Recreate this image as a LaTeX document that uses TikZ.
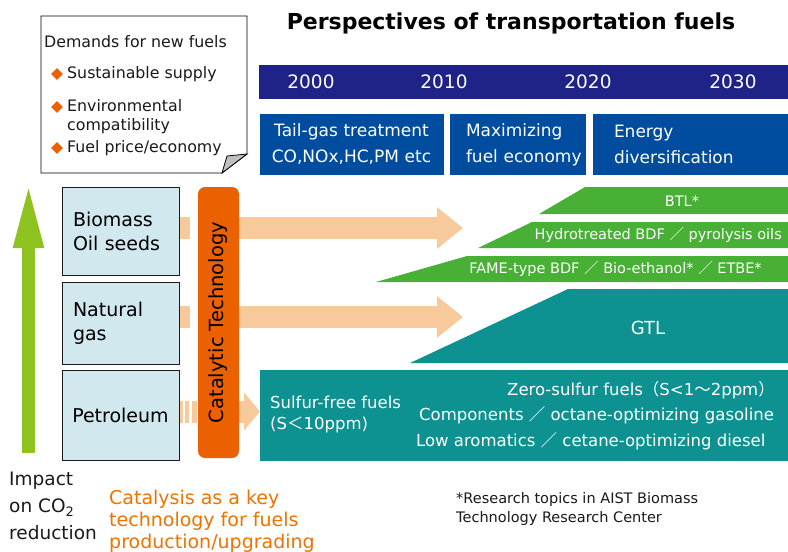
\documentclass[tikz,border=0pt]{standalone}
\usepackage{fontspec}
\setmainfont{DejaVu Sans}
\newfontfamily\cjk{Noto Sans CJK JP}
\usetikzlibrary{arrows.meta,positioning,shapes.geometric}
\definecolor{fuelNavy}{HTML}{1F2287}
\definecolor{fuelBlue}{HTML}{004C9E}
\definecolor{fuelGreen}{HTML}{48B035}
\definecolor{fuelTeal}{HTML}{0E9191}
\definecolor{fuelOrange}{HTML}{EB6100}
\definecolor{fuelPeach}{HTML}{F8C99B}
\definecolor{fuelLime}{HTML}{8DC21F}
\definecolor{fuelIce}{HTML}{D0E8EE}
\definecolor{fuelText}{HTML}{EE7300}
\definecolor{fuelInk}{HTML}{1A1A1A}
\newcommand{\fsz}[2]{\fontsize{#1}{#2}\selectfont}

\begin{document}
\begin{tikzpicture}[x=1pt,y=-1pt,>=Latex,line join=miter]
\useasboundingbox[fill=white] (0,0) rectangle (788,552);
\tikzset{src/.style={draw=fuelInk,fill=fuelIce,line width=1pt,minimum width=117pt,inner sep=0pt,text width=95pt,align=left,font=\fsz{19}{24}},goal/.style={fill=fuelBlue,text=white,minimum height=61pt,inner sep=0pt,font=\fsz{17}{26}},year/.style={text=white,font=\fsz{18.5}{22}},feed/.style={draw=fuelPeach,line width=22pt,-{Triangle[length=26pt,width=40pt]}},bartext/.style={text=white,font=\fsz{14.5}{17},inner sep=0pt},tealtext/.style={text=white,font=\fsz{16.5}{21},inner sep=0pt,align=left},notetext/.style={anchor=west,text=fuelInk,font=\fsz{15.8}{19},inner sep=0pt,align=left},bullet/.style={diamond,fill=fuelOrange,minimum size=12pt,inner sep=0pt}}
\node[font=\bfseries\fsz{22}{26}] (title) at (511,23) {Perspectives of transportation fuels};
\draw[fill=white,line width=0.8pt] (41,16) -- (247,16) -- (247,154) -- (222,173) -- (41,173) -- cycle;
\draw[fill=black!25,line width=0.8pt] (222,173) -- (227,156) -- (247,154) -- cycle;
\node[notetext] (demand) at (44,42) {Demands for new fuels};
\node[bullet] (b1) at (57,74) {}; \node[notetext] (supply) at (67,74) {Sustainable supply};
\node[bullet] (b2) at (57,107) {}; \node[notetext] (envir) at (67,116.5) {Environmental\\compatibility};
\node[bullet] (b3) at (57,148) {}; \node[notetext] (price) at (67,148) {Fuel price/economy};
\coordinate (co2base) at (28.5,453); \coordinate (co2top) at (28.5,181);
\draw[draw=fuelLime,line width=13pt,-{Triangle[length=67pt,width=27pt]}] (co2base) -- (co2top);
\node[src,minimum height=88pt] (bio) at (120.5,231) {Biomass\\Oil seeds};
\node[src,minimum height=82pt] (gas) at (120.5,323) {Natural\\gas};
\node[src,minimum height=90pt,text width=105pt,align=center] (oil) at (120.5,415) {Petroleum};
\path[fill=fuelNavy] (259,65) rectangle (788,99);
\node[year] (y2000) at (311,82) {2000}; \node[year] (y2010) at (444,82) {2010}; \node[year] (y2020) at (588,82) {2020}; \node[year] (y2030) at (733,82) {2030};
\node[goal,minimum width=184pt,text width=184pt,align=center] (tail) at (351.5,144.5) {Tail-gas treatment\\CO,NOx,HC,PM etc};
\node[goal,minimum width=136pt,text width=104pt,align=left] (econ) at (518,144.5) {Maximizing\\\mbox{fuel economy}};
\node[goal,minimum width=195.5pt,text width=152.5pt,align=left] (energy) at (690.25,144.5) {Energy\\diversification};
\path[fill=fuelGreen] (585,187) -- (788,187) -- (788,214) -- (539,214) -- cycle;
\path[fill=fuelGreen] (532,222) -- (788,222) -- (788,248) -- (478,248) -- cycle;
\path[fill=fuelGreen] (467,256) -- (788,256) -- (788,282) -- (376,282) -- cycle;
\path[fill=fuelTeal] (568,289) -- (788,289) -- (788,363) -- (410,363) -- cycle;
\path[fill=fuelTeal] (260,370) rectangle (788,461);
\node[bartext] (btl) at (682,201) {BTL*};
\node[bartext,anchor=east] (hydro) at (782,235) {Hydrotreated BDF {\cjk ／} pyrolysis oils};
\node[bartext] (fame) at (615.5,269) {FAME-type BDF {\cjk ／} Bio-ethanol* {\cjk ／} ETBE*};
\node[bartext,font=\fsz{18}{20}] (gtl) at (648,328) {GTL};
\coordinate (bioend) at (463,228); \coordinate (gasend) at (463,317); \coordinate (oilend) at (260,411.5);
\draw[feed,dash pattern=on 10pt off 8pt on 400pt] (bio.east |- bioend) -- (bioend);
\draw[feed,dash pattern=on 10pt off 8pt on 400pt] (gas.east |- gasend) -- (gasend);
\draw[feed,-{Triangle[length=16pt,width=37pt]},dash pattern=on 3pt off 2pt on 4pt off 3pt on 5pt off 2pt on 200pt] (oil.east |- oilend) -- (oilend);
\node[rotate=90,fill=fuelOrange,rounded corners=7pt,minimum width=271pt,minimum height=41pt,inner sep=0pt,font=\fsz{19.5}{22}] (cat) at (218.5,322.5) {Catalytic Technology};
\node[tealtext,anchor=west] (sfree) at (270,414.5) {Sulfur-free fuels\\(S{\cjk ＜}10ppm)};
\node[tealtext,anchor=east] (zero) at (775,390) {Zero-sulfur fuels{\cjk （}S<1{\cjk ～}2ppm{\cjk ）}};
\node[tealtext,anchor=west] (comp) at (419,415) {Components {\cjk ／} octane-optimizing gasoline};
\node[tealtext,anchor=west] (arom) at (416,441) {Low aromatics {\cjk ／} cetane-optimizing diesel};
\node[anchor=west,align=left,inner sep=0pt,text=fuelInk,font=\fsz{18.5}{27}] (impact) at (9,506) {Impact\\on CO\textsubscript{2}\\reduction};
\node[anchor=west,align=left,inner sep=0pt,text=fuelText,font=\fsz{19}{22}] (key) at (109,521) {Catalysis as a key\\technology for fuels\\production/upgrading};
\node[anchor=west,align=left,inner sep=0pt,text=fuelInk,font=\fsz{14.5}{19}] (footnote) at (456,509) {*Research topics in AIST Biomass\\Technology Research Center};
\end{tikzpicture}
\end{document}
